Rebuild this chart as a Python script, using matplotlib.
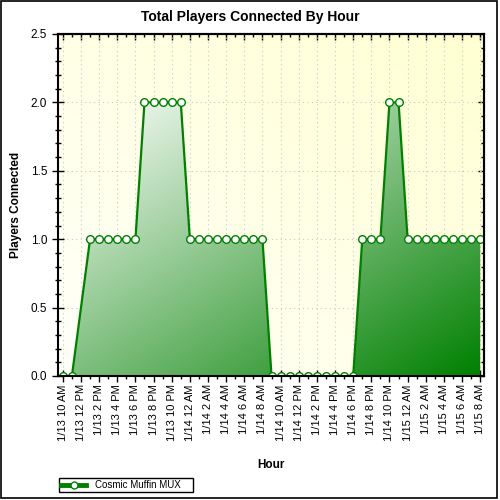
import numpy as np
import pandas as pd
import matplotlib
matplotlib.use('Agg')
import matplotlib.pyplot as plt
import matplotlib.dates as mdates
from matplotlib.colors import to_rgb
from matplotlib.patches import Rectangle
from matplotlib.lines import Line2D

plt.rcParams['font.family'] = ['Liberation Sans', 'DejaVu Sans']

# hourly samples, no sample logged for 1/13 12 PM
timestamps = [
    '2011-01-13 10:00', '2011-01-13 11:00',
    '2011-01-13 13:00', '2011-01-13 14:00', '2011-01-13 15:00', '2011-01-13 16:00',
    '2011-01-13 17:00', '2011-01-13 18:00', '2011-01-13 19:00', '2011-01-13 20:00',
    '2011-01-13 21:00', '2011-01-13 22:00', '2011-01-13 23:00',
    '2011-01-14 00:00', '2011-01-14 01:00', '2011-01-14 02:00', '2011-01-14 03:00',
    '2011-01-14 04:00', '2011-01-14 05:00', '2011-01-14 06:00', '2011-01-14 07:00',
    '2011-01-14 08:00', '2011-01-14 09:00', '2011-01-14 10:00', '2011-01-14 11:00',
    '2011-01-14 12:00', '2011-01-14 13:00', '2011-01-14 14:00', '2011-01-14 15:00',
    '2011-01-14 16:00', '2011-01-14 17:00', '2011-01-14 18:00', '2011-01-14 19:00',
    '2011-01-14 20:00', '2011-01-14 21:00', '2011-01-14 22:00', '2011-01-14 23:00',
    '2011-01-15 00:00', '2011-01-15 01:00', '2011-01-15 02:00', '2011-01-15 03:00',
    '2011-01-15 04:00', '2011-01-15 05:00', '2011-01-15 06:00', '2011-01-15 07:00',
    '2011-01-15 08:00',
]
players = [
    0, 0,
    1, 1, 1, 1, 1, 1,
    2, 2, 2, 2, 2,
    1, 1, 1, 1, 1, 1, 1, 1, 1,
    0, 0, 0, 0, 0, 0, 0, 0, 0, 0,
    1, 1, 1,
    2, 2,
    1, 1, 1, 1, 1, 1, 1, 1, 1,
]
series_name = 'Cosmic Muffin MUX'

green = '#008000'
x = mdates.date2num(pd.to_datetime(timestamps))

fig = plt.figure(figsize=(5, 5), dpi=100)
ax = fig.add_axes([0.1166, 0.248, 0.852, 0.684])

# pale yellow background gradient
u, v = np.meshgrid(np.linspace(0, 1, 200), np.linspace(0, 1, 200))
tb = 0.5 * (u + v)
bg = np.array(to_rgb('#fffffa')) * (1 - tb[..., None]) + np.array(to_rgb('#ffffd2')) * tb[..., None]
ax.imshow(bg, extent=[0, 1, 0, 1], origin='lower', aspect='auto',
          transform=ax.transAxes, zorder=0)

# area with diagonal gradient (light top-left -> green bottom-right)
poly = ax.fill_between(x, players, 0, color='none', lw=0)
tf = 0.5 * (u + 1 - v)
fill_img = np.array(to_rgb('#ffffff')) * (1 - tf[..., None]) + np.array(to_rgb(green)) * tf[..., None]
im = ax.imshow(fill_img, extent=[x[0], x[-1], 0, max(players)], origin='lower',
               aspect='auto', zorder=2)
im.set_clip_path(poly.get_paths()[0], transform=ax.transData)

ax.plot(x, players, color=green, lw=1.6, marker='o', ms=5.5, mfc='white',
        mec=green, mew=1, zorder=3)

ax.set_xlim(x[0] - 0.5 / 24, x[-1] + 0.45 / 24)
ax.set_ylim(0, 2.5)


def hour_label(val, pos):
    d = mdates.num2date(val)
    h = d.hour % 12 or 12
    return f"{d.month}/{d.day} {h} {'AM' if d.hour < 12 else 'PM'}"


ax.xaxis.set_major_locator(mdates.HourLocator(byhour=range(0, 24, 2)))
ax.xaxis.set_minor_locator(mdates.HourLocator())
ax.xaxis.set_major_formatter(plt.FuncFormatter(hour_label))
ax.yaxis.set_major_locator(plt.MultipleLocator(0.5))
ax.yaxis.set_minor_locator(plt.MultipleLocator(0.1))
ax.yaxis.set_major_formatter(plt.FormatStrFormatter('%.1f'))

ax.tick_params(which='both', direction='inout', width=1)
ax.tick_params(which='major', length=8)
ax.tick_params(which='minor', length=4)
ax.tick_params(axis='x', which='major', labelsize=8, labelrotation=90, pad=2)
ax.tick_params(axis='y', which='major', labelsize=8.5, pad=4)

# inward ticks on the top and right edges
top = ax.secondary_xaxis('top')
top.xaxis.set_major_locator(mdates.HourLocator(byhour=range(0, 24, 2)))
top.xaxis.set_minor_locator(mdates.HourLocator())
top.tick_params(which='both', direction='in', labeltop=False, width=1)
top.tick_params(which='major', length=4)
top.tick_params(which='minor', length=2.5)
right = ax.secondary_yaxis('right')
right.yaxis.set_major_locator(plt.MultipleLocator(0.5))
right.yaxis.set_minor_locator(plt.MultipleLocator(0.1))
right.tick_params(which='both', direction='in', labelright=False, width=1)
right.tick_params(which='major', length=4)
right.tick_params(which='minor', length=2.5)
for sec in (top, right):
    for s in sec.spines.values():
        s.set_linewidth(1.5)

ax.grid(which='major', color='#c8c8c8', lw=0.8, linestyle=(0, (1, 3)))
ax.set_axisbelow(True)
for s in ax.spines.values():
    s.set_linewidth(1.5)
    s.set_zorder(4)

fig.text(0.5, 1 - 17 / 500, 'Total Players Connected By Hour', ha='center',
         va='center', fontsize=10, fontweight='bold')
fig.text(16 / 500, 1 - 205 / 500, 'Players Connected', rotation=90, ha='center',
         va='center', fontsize=8.5, fontweight='bold')
fig.text(271 / 500, 1 - 465 / 500, 'Hour', ha='center', va='center',
         fontsize=8.5, fontweight='bold')

handle = Line2D([], [], color=green, lw=3.5, marker='o', ms=5, mfc='white',
                mec=green, mew=1)
leg = fig.legend(handles=[handle], labels=[series_name], loc='upper left',
                 bbox_to_anchor=(59 / 500, 1 - 491 / 500, 134 / 500, 13 / 500),
                 mode='expand', fontsize=7, frameon=True, fancybox=False,
                 edgecolor='black', framealpha=1, borderpad=0.2,
                 handlelength=2.6, handletextpad=0.9, borderaxespad=0)
leg.get_frame().set_linewidth(1)

fig.patches.append(Rectangle((0.002, 0.004), 0.992, 0.994, transform=fig.transFigure,
                             fill=False, edgecolor='black', lw=1.2))

fig.savefig('out.png', dpi=100)
